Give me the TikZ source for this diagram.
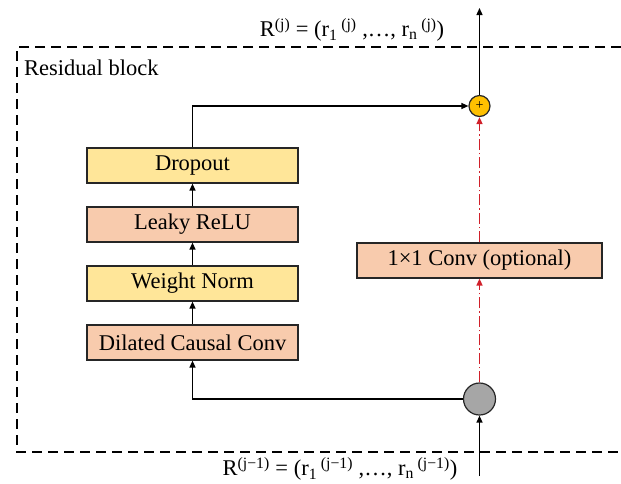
\documentclass[tikz,border=0pt]{standalone}
\usepackage{fontspec}
\setmainfont{Liberation Serif}
\usetikzlibrary{arrows.meta,positioning}
\definecolor{boxyellow}{HTML}{FFE699}
\definecolor{boxpeach}{HTML}{F8CBAD}
\definecolor{plusorange}{HTML}{FFC000}
\definecolor{greyfill}{HTML}{A6A6A6}
\definecolor{edgegrey}{HTML}{262626}
\definecolor{dashred}{HTML}{D0202A}
\tikzset{
  lbox/.style={draw=edgegrey, line width=1.2pt, minimum width=211pt, minimum height=35pt, inner sep=0pt,
    font=\fontsize{22.5}{26}\selectfont},
  ybox/.style={lbox, fill=boxyellow},
  pbox/.style={lbox, fill=boxpeach},
  arr/.style={line width=1.3pt, draw=black, -{Triangle[length=7pt,width=6pt]}},
  redarr/.style={line width=1.5pt, draw=dashred, dash pattern=on 11pt off 3pt on 1.5pt off 3pt,
    -{Triangle[length=7pt,width=6pt,fill=dashred]}},
  lbl/.style={font=\fontsize{22.5}{26}\selectfont, inner sep=0pt},
}
\begin{document}
\begin{tikzpicture}[x=1pt,y=-1pt]
\useasboundingbox (0,0) rectangle (621,483);
% dashed frame
\draw[line width=1.2pt, dash pattern=on 10pt off 6pt] (621,47) -- (17,47) -- (17,452) -- (621,452);
\node[lbl, anchor=west] (title) at (24,68) {Residual block};

% boxes
\node[ybox] (drop) at (192.5,165.5) {Dropout};
\node[pbox] (relu) at (192.5,224.5) {Leaky ReLU};
\node[ybox] (wn)   at (192.5,283.5) {Weight Norm};
\node[pbox] (dil)  at (192.5,342.5) {Dilated Causal Conv};
\node[pbox, minimum width=245pt] (conv) at (479.5,260.5) {1×1 Conv (optional)};

% circles
\node[circle, draw=edgegrey, line width=1.2pt, fill=plusorange, minimum size=21pt, inner sep=0pt,
  font=\fontsize{14}{14}\selectfont] (plus) at (479.5,106) {+};
\node[circle, draw=edgegrey, line width=1.2pt, fill=greyfill, minimum size=32pt, inner sep=0pt] (grey) at (479.5,399) {};

\coordinate (out) at (479.5,8);
\coordinate (in) at (479.5,476);

% connectors
\draw[arr] (dil.north) -- (wn.south);
\draw[arr] (wn.north) -- (relu.south);
\draw[arr] (relu.north) -- (drop.south);
\draw[arr] (drop.north) |- (plus.west);
\draw[arr] (grey.west) -| (dil.south);
\draw[arr] (in) -- (grey.south);
\draw[arr] (plus.north) -- (out);
\draw[redarr] (grey.north) -- (conv.south);
\draw[redarr] (conv.north) -- (plus.south);

% labels
\node[lbl] (rout) at (352,30) {R\textsuperscript{(j)} = (r\textsubscript{1}\,\textsuperscript{(j)} ,…, r\textsubscript{n}\,\textsuperscript{(j)})};
\node[lbl] (rin) at (340,469) {R\textsuperscript{(j−1)} = (r\textsubscript{1}\,\textsuperscript{(j−1)} ,…, r\textsubscript{n}\,\textsuperscript{(j−1)})};
\end{tikzpicture}
\end{document}
